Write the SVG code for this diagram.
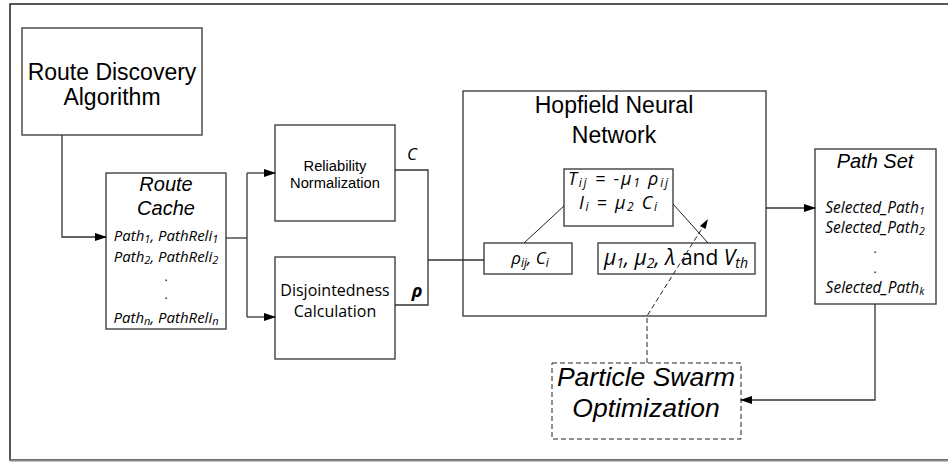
<svg xmlns="http://www.w3.org/2000/svg" width="948" height="462" viewBox="0 0 948 462">
<defs>
<marker id="arr" markerWidth="12" markerHeight="8" refX="11" refY="4" orient="auto" markerUnits="userSpaceOnUse">
<path d="M0,0 L12,4 L0,8 Z" fill="#000"/>
</marker>
</defs>
<style>
.box{fill:#fff;stroke:#404040;stroke-width:1.4}
.ln{fill:none;stroke:#333;stroke-width:1.3}
.thin{fill:none;stroke:#222;stroke-width:1}
.dash{fill:none;stroke:#222;stroke-width:1;stroke-dasharray:5,3}
.ar{font-family:"Liberation Sans",Arial,sans-serif;fill:#000;text-anchor:middle}
.cb{font-family:"Open Sans","Noto Sans",sans-serif;fill:#000;text-anchor:middle}
.it{font-style:italic}
</style>
<rect x="10" y="4" width="950" height="456" fill="#fff" stroke="#222" stroke-width="1.5"/>
<line x1="10" y1="460.5" x2="948" y2="460.5" stroke="#888" stroke-width="2"/>

<g id="route-discovery">
<rect class="box" x="22" y="28" width="180" height="107"/>
<text class="ar" x="112" y="80" font-size="23">Route Discovery</text>
<text class="ar" x="112" y="105" font-size="23">Algorithm</text>
</g>

<g id="route-cache">
<rect class="box" x="106" y="173" width="120" height="156"/>
<text class="ar it" x="166" y="191" font-size="20">Route</text>
<text class="ar it" x="166" y="215" font-size="20">Cache</text>
<text class="cb it" x="166" y="241" font-size="15">Path<tspan font-size="11" dy="2">1</tspan><tspan dy="-2">, PathReli</tspan><tspan font-size="11" dy="2">1</tspan></text>
<text class="cb it" x="166" y="262" font-size="15">Path<tspan font-size="11" dy="2">2</tspan><tspan dy="-2">, PathReli</tspan><tspan font-size="11" dy="2">2</tspan></text>
<text class="cb" x="166" y="281" font-size="12">.</text>
<text class="cb" x="166" y="299" font-size="12">.</text>
<text class="cb it" x="166" y="323" font-size="15">Path<tspan font-size="11" dy="2">n</tspan><tspan dy="-2">, PathReli</tspan><tspan font-size="11" dy="2">n</tspan></text>
</g>

<g id="reliability">
<rect class="box" x="275" y="125" width="120" height="96"/>
<text class="ar" x="335" y="171" font-size="14.7">Reliability</text>
<text class="ar" x="335" y="188" font-size="14.7">Normalization</text>
<text class="cb it" x="412" y="160" font-size="17">C</text>
</g>

<g id="disjointedness">
<rect class="box" x="275" y="257" width="120" height="102"/>
<text class="cb" x="335" y="296" font-size="16">Disjointedness</text>
<text class="cb" x="335" y="317" font-size="16">Calculation</text>
<text class="cb it" x="417" y="297" font-size="18" font-weight="bold">ρ</text>
</g>

<g id="hopfield">
<rect class="box" x="463" y="91" width="303" height="225"/>
<text class="ar" x="614" y="113" font-size="23">Hopfield Neural</text>
<text class="ar" x="614" y="143" font-size="23">Network</text>
</g>

<g id="weights">
<rect class="box" x="564" y="169" width="109" height="57"/>
<text class="cb it" x="618" y="185" font-size="18" textLength="100" lengthAdjust="spacing">T<tspan font-size="12" dy="2">ij</tspan><tspan dy="-2"> = -μ</tspan><tspan font-size="12" dy="2">1</tspan><tspan dy="-2"> ρ</tspan><tspan font-size="12" dy="2">ij</tspan></text>
<text class="cb it" x="618" y="209" font-size="18" textLength="78" lengthAdjust="spacing">I<tspan font-size="12" dy="2">i</tspan><tspan dy="-2"> = μ</tspan><tspan font-size="12" dy="2">2</tspan><tspan dy="-2"> C</tspan><tspan font-size="12" dy="2">i</tspan></text>
</g>

<g id="inputs">
<rect class="box" x="484" y="243" width="88" height="31"/>
<text class="cb it" x="530" y="264" font-size="17">ρ<tspan font-size="12" dy="3">ij</tspan><tspan dy="-3">, C</tspan><tspan font-size="12" dy="3">i</tspan></text>
</g>

<g id="params">
<rect class="box" x="598" y="243" width="157" height="31"/>
<text class="cb" x="676" y="265" font-size="21"><tspan font-style="italic">μ</tspan><tspan font-size="14" font-style="italic" dy="3">1</tspan><tspan font-style="italic" dy="-3">, μ</tspan><tspan font-size="14" font-style="italic" dy="3">2</tspan><tspan font-style="italic" dy="-3">, λ</tspan> and <tspan font-style="italic">V</tspan><tspan font-size="14" font-style="italic" dy="3">th</tspan></text>
</g>

<g id="path-set">
<rect class="box" x="815" y="149" width="121" height="155"/>
<text class="ar it" x="875" y="168" font-size="20">Path Set</text>
<text class="cb it" x="875" y="213" font-size="15.5">Selected_Path<tspan font-size="10.5" dy="2">1</tspan></text>
<text class="cb it" x="875" y="233" font-size="15.5">Selected_Path<tspan font-size="10.5" dy="2">2</tspan></text>
<text class="cb" x="875" y="253" font-size="12">.</text>
<text class="cb" x="875" y="273" font-size="12">.</text>
<text class="cb it" x="875" y="293" font-size="15.5">Selected_Path<tspan font-size="10.5" dy="2">k</tspan></text>
</g>

<g id="pso">
<rect x="552" y="363" width="189" height="76" fill="#fff" stroke="#222" stroke-width="1" stroke-dasharray="5,3"/>
<text class="ar it" x="646" y="386" font-size="26.5">Particle Swarm</text>
<text class="ar it" x="646" y="417" font-size="26.5">Optimization</text>
</g>

<g id="connectors">
<path class="ln" d="M62,135 V237 H106" marker-end="url(#arr)"/>
<path class="ln" d="M226,238 H247"/>
<path class="ln" d="M247,173 V317"/>
<path class="ln" d="M247,173 H275" marker-end="url(#arr)"/>
<path class="ln" d="M247,317 H275" marker-end="url(#arr)"/>
<path class="ln" d="M395,170 H428 V305 H395"/>
<path class="ln" d="M428,260 H484"/>
<path class="thin" d="M524,243 L564,206"/>
<path class="thin" d="M673,204 L708,243"/>
<path class="ln" d="M766,208 H815" marker-end="url(#arr)"/>
<path class="ln" d="M875,304 V400 H741" marker-end="url(#arr)"/>
<path class="dash" d="M647,363 V316 L706,222"/>
<path d="M708,219 L700,226 L705.5,229 Z" fill="#000"/>
</g>
</svg>
